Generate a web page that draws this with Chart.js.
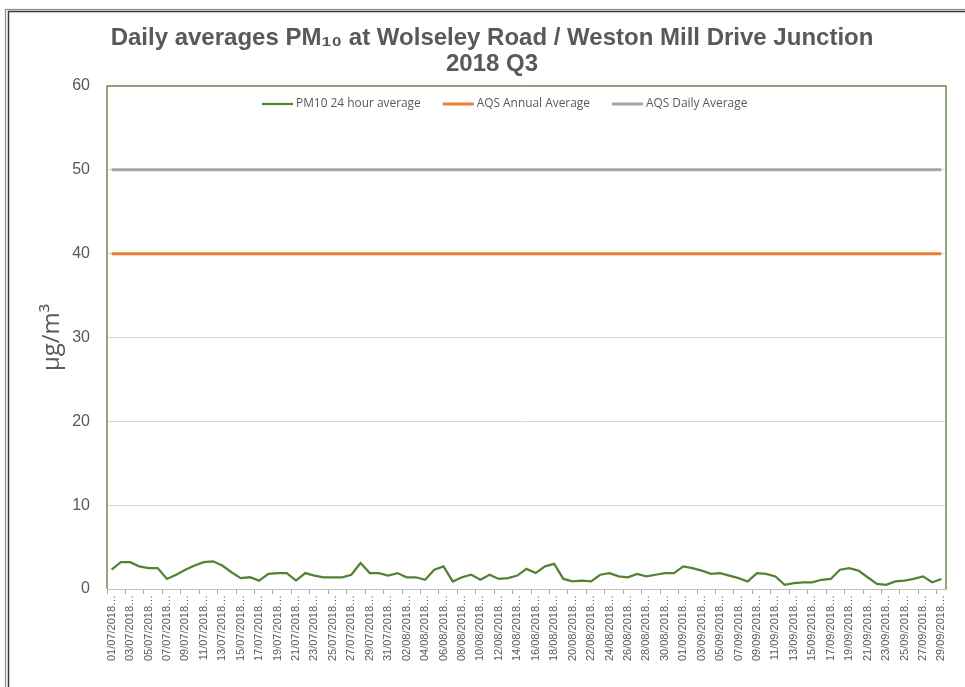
<!DOCTYPE html>
<html>
<head>
<meta charset="utf-8">
<script src="https://cdn.jsdelivr.net/npm/chart.js@4/dist/chart.umd.min.js"></script>
<style>
  html, body { margin: 0; padding: 0; background: #ffffff; }
  #wrap { width: 965px; height: 687px; position: relative; }
</style>
</head>
<body>
<div id="wrap"><canvas id="c" width="965" height="687"></canvas></div>
<script>
const dates = [
  '01/07/2018','02/07/2018','03/07/2018','04/07/2018','05/07/2018','06/07/2018','07/07/2018','08/07/2018','09/07/2018','10/07/2018',
  '11/07/2018','12/07/2018','13/07/2018','14/07/2018','15/07/2018','16/07/2018','17/07/2018','18/07/2018','19/07/2018','20/07/2018',
  '21/07/2018','22/07/2018','23/07/2018','24/07/2018','25/07/2018','26/07/2018','27/07/2018','28/07/2018','29/07/2018','30/07/2018',
  '31/07/2018','01/08/2018','02/08/2018','03/08/2018','04/08/2018','05/08/2018','06/08/2018','07/08/2018','08/08/2018','09/08/2018',
  '10/08/2018','11/08/2018','12/08/2018','13/08/2018','14/08/2018','15/08/2018','16/08/2018','17/08/2018','18/08/2018','19/08/2018',
  '20/08/2018','21/08/2018','22/08/2018','23/08/2018','24/08/2018','25/08/2018','26/08/2018','27/08/2018','28/08/2018','29/08/2018',
  '30/08/2018','31/08/2018','01/09/2018','02/09/2018','03/09/2018','04/09/2018','05/09/2018','06/09/2018','07/09/2018','08/09/2018',
  '09/09/2018','10/09/2018','11/09/2018','12/09/2018','13/09/2018','14/09/2018','15/09/2018','16/09/2018','17/09/2018','18/09/2018',
  '19/09/2018','20/09/2018','21/09/2018','22/09/2018','23/09/2018','24/09/2018','25/09/2018','26/09/2018','27/09/2018','28/09/2018',
  '29/09/2018'
];

const pm10Daily = [
  2.3, 3.2, 3.2, 2.7, 2.5, 2.5, 1.2, 1.7, 2.3, 2.8,
  3.2, 3.3, 2.8, 2.0, 1.3, 1.4, 1.0, 1.8, 1.9, 1.9,
  1.0, 1.9, 1.6, 1.4, 1.4, 1.4, 1.7, 3.1, 1.9, 1.9,
  1.6, 1.9, 1.4, 1.4, 1.1, 2.3, 2.7, 0.9, 1.4, 1.7,
  1.1, 1.7, 1.2, 1.3, 1.6, 2.4, 1.9, 2.7, 3.0, 1.2,
  0.9, 1.0, 0.9, 1.7, 1.9, 1.5, 1.4, 1.8, 1.5, 1.7,
  1.9, 1.9, 2.7, 2.5, 2.2, 1.8, 1.9, 1.6, 1.3, 0.9,
  1.9, 1.8, 1.5, 0.5, 0.7, 0.8, 0.8, 1.1, 1.2, 2.3,
  2.5, 2.2, 1.4, 0.6, 0.5, 0.9, 1.0, 1.2, 1.5, 0.8,
  1.2
];

const aqsAnnualAverage = 40;
const aqsDailyAverage = 50;
const yTicks = [0, 10, 20, 30, 40, 50, 60];

const seriesNames = ['PM10 24 hour average', 'AQS Annual Average', 'AQS Daily Average'];
const seriesColors = ['#548235', '#ED7D31', '#A5A5A5'];

const firstDate = dates[0];
const lastDate = dates[dates.length - 1];

const frameAndLegend = {
  id: 'frameAndLegend',
  beforeDraw(chart) {
    const ctx = chart.ctx;
    ctx.save();
    ctx.fillStyle = '#ffffff';
    ctx.fillRect(0, 0, chart.width, chart.height);
    ctx.lineWidth = 1.2;
    ctx.strokeStyle = '#8c8c8c';
    ctx.strokeRect(5.5, 9.5, chart.width + 20, chart.height + 20);
    ctx.lineWidth = 1.5;
    ctx.strokeStyle = '#2b3a4c';
    ctx.strokeRect(8.5, 11.5, chart.width + 20, chart.height + 20);
    ctx.restore();
  },
  beforeDatasetsDraw(chart) {
    const a = chart.chartArea;
    const ctx = chart.ctx;
    ctx.save();
    ctx.strokeStyle = '#6b8c55';
    ctx.lineWidth = 1.5;
    ctx.beginPath();
    ctx.moveTo(a.left, a.bottom);
    ctx.lineTo(a.left, a.top);
    ctx.lineTo(a.right, a.top);
    ctx.lineTo(a.right, a.bottom);
    ctx.stroke();
    ctx.restore();
  },
  afterDraw(chart) {
    const a = chart.chartArea;
    const ctx = chart.ctx;
    ctx.save();
    ctx.font = '11.9px "Open Sans", sans-serif';
    ctx.textBaseline = 'middle';
    ctx.fillStyle = '#595959';
    const y = a.top + 18;
    let x = a.left + 155;
    const sample = 31, gap = 3, spacing = 22;
    chart.data.datasets.forEach((ds, i) => {
      ctx.strokeStyle = ds.borderColor;
      ctx.lineWidth = i === 0 ? 2.25 : 3;
      ctx.beginPath();
      ctx.moveTo(x, y);
      ctx.lineTo(x + sample, y);
      ctx.stroke();
      x += sample + gap;
      ctx.fillText(ds.label, x, y);
      x += ctx.measureText(ds.label).width + spacing;
    });
    ctx.restore();
  }
};

new Chart(document.getElementById('c'), {
  type: 'line',
  data: {
    labels: dates,
    datasets: [
      {
        label: seriesNames[0],
        data: pm10Daily,
        borderColor: seriesColors[0],
        backgroundColor: seriesColors[0],
        borderWidth: 2.25,
        pointRadius: 0,
        tension: 0
      },
      {
        label: seriesNames[1],
        data: [{ x: firstDate, y: aqsAnnualAverage }, { x: lastDate, y: aqsAnnualAverage }],
        borderColor: seriesColors[1],
        backgroundColor: seriesColors[1],
        borderWidth: 3,
        pointRadius: 0
      },
      {
        label: seriesNames[2],
        data: [{ x: firstDate, y: aqsDailyAverage }, { x: lastDate, y: aqsDailyAverage }],
        borderColor: seriesColors[2],
        backgroundColor: seriesColors[2],
        borderWidth: 3,
        pointRadius: 0
      }
    ]
  },
  options: {
    responsive: false,
    animation: false,
    layout: { padding: { top: 14, left: 38, right: 19, bottom: 0 } },
    plugins: {
      legend: { display: false },
      tooltip: { enabled: false },
      title: {
        display: true,
        text: ['Daily averages PM\u2081\u2080 at Wolseley Road / Weston Mill Drive Junction', '2018 Q3'],
        color: '#595959',
        font: { family: '"Liberation Sans", Arial, sans-serif', size: 24, weight: 'bold', lineHeight: 1.083 },
        padding: { top: 11, bottom: 9 }
      }
    },
    scales: {
      x: {
        type: 'category',
        offset: true,
        grid: {
          offset: true,
          drawOnChartArea: false,
          drawTicks: true,
          tickLength: 5,
          tickColor: (c) => (c.index % 2 === 0 || c.index >= dates.length) ? '#a6a6a6' : 'rgba(0,0,0,0)'
        },
        border: { display: true, color: '#bfbfbf', width: 1 },
        ticks: {
          autoSkip: false,
          maxRotation: 90,
          minRotation: 90,
          padding: 1,
          color: '#595959',
          font: { family: '"Liberation Sans", Arial, sans-serif', size: 11 },
          callback: function (value, index) {
            return index % 2 === 0 ? this.getLabelForValue(value) + '\u2026' : '';
          }
        },
        afterFit: (s) => { s.height = 98; }
      },
      y: {
        min: 0,
        max: 60,
        afterBuildTicks: (s) => { s.ticks = yTicks.map(v => ({ value: v })); },
        grid: { color: '#d9d9d9', lineWidth: 1, drawTicks: false },
        border: { display: false },
        ticks: {
          padding: 17,
          color: '#595959',
          font: { family: '"Liberation Sans", Arial, sans-serif', size: 16 }
        },
        title: {
          display: true,
          text: 'µg/m³',
          color: '#595959',
          font: { family: '"Open Sans", sans-serif', size: 24 },
          padding: { top: 0, bottom: 0 }
        },
        afterFit: (s) => { s.width = 69; }
      }
    }
  },
  plugins: [frameAndLegend]
});
</script>
</body>
</html>
